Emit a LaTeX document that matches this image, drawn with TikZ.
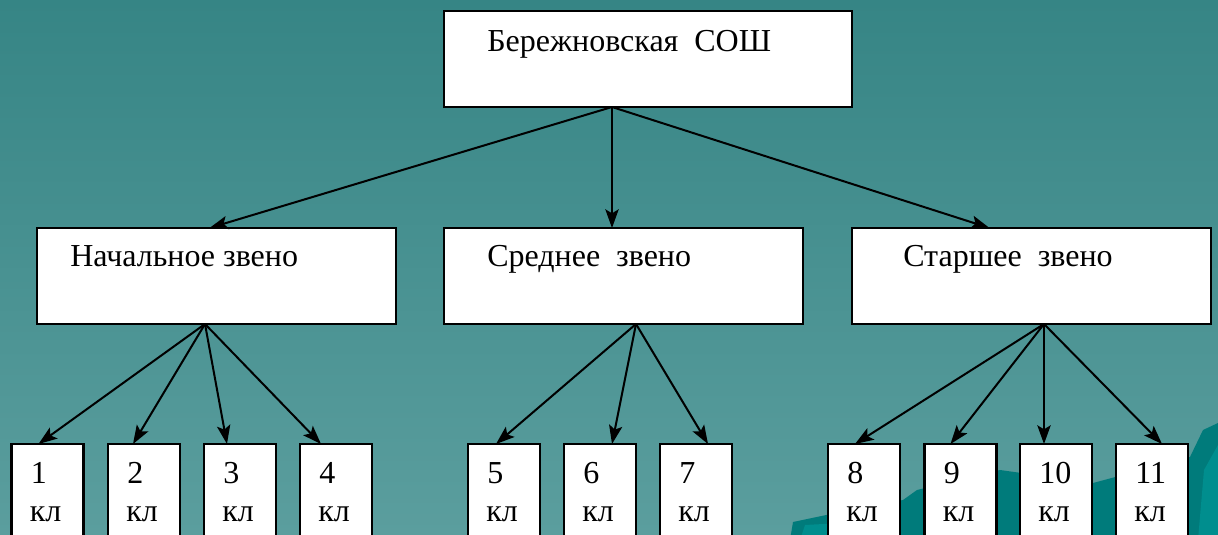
\documentclass[tikz,border=0pt]{standalone}
\usepackage{fontspec}
\setmainfont{Liberation Serif}
\usetikzlibrary{arrows.meta,calc}
\definecolor{bgtop}{HTML}{368585}
\definecolor{bgbot}{HTML}{5B9E9E}
\definecolor{hill}{HTML}{007B7B}
\definecolor{hilltwo}{HTML}{008E8E}
\begin{document}
\begin{tikzpicture}[x=0.75pt,y=-0.75pt,
  box/.style={draw=black,fill=white,line width=1.7pt,inner sep=0pt,outer sep=0pt},
  topbox/.style={box,minimum width=306pt,minimum height=72pt},
  midbox/.style={box,minimum width=269.25pt,minimum height=72pt},
  clsbox/.style={box,minimum width=54pt,minimum height=82.5pt},
  lbl/.style={anchor=base west,inner sep=0pt,font=\fontsize{24}{28}\selectfont},
  conn/.style={line width=1.5pt,-{Stealth[length=14pt,width=10pt,inset=3pt]}}]
\useasboundingbox (0,0) rectangle (1218,535);
\clip (0,0) rectangle (1218,535);
\shade[top color=bgtop,bottom color=bgbot] (0,0) rectangle (1218,535);
\fill[hill] (790,540) -- (793,522) -- (850,510) -- (903,500) -- (917,490) -- (1000,470) -- (1093,483) -- (1190,457) -- (1203,430) -- (1218,423) -- (1218,540) -- cycle;
\fill[hilltwo] (1198,540) -- (1204,470) -- (1218,445) -- (1218,540) -- cycle;
\fill[hilltwo] (800,540) -- (805,525) -- (860,522) -- (860,540) -- cycle;
% top
\node[topbox] (top) at (648,59) {};
\node[lbl] (ttop) at (487,52) {Бережновская\ \ СОШ};
% level 2
\node[midbox] (n1) at (216.5,276) {};
\node[midbox] (n2) at (623.5,276) {};
\node[midbox] (n3) at (1031.5,276) {};
\node[lbl] (t1) at (70,266.5) {Начальное звено};
\node[lbl] (t2) at (487,266.5) {Среднее\ \ звено};
\node[lbl] (t3) at (903,266.5) {Старшее\ \ звено};
% level 3
\foreach \i/\x in {1/47.5,2/144,3/240,4/336,5/504,6/600,7/696,8/864,9/960.5,10/1056,11/1152}{
  \node[clsbox] (b\i) at (\x,499) {};
  \node[lbl] (d\i) at ($(b\i.north west)+(19,39)$) {\i};
  \node[lbl] (k\i) at ($(b\i.north west)+(18,77)$) {кл};
}
% connectors
\coordinate (topout) at ($(top.south)+(-36,0)$);
\draw[conn] (topout) -- ($(n1.north)+(-7,0)$);
\draw[conn] (topout) -- (n2.north -| topout);
\draw[conn] (topout) -- ($(n3.north)+(-42,0)$);
\coordinate (o1) at ($(n1.south)+(-11.5,0)$);
\coordinate (o2) at ($(n2.south)+(12.5,0)$);
\coordinate (o3) at ($(n3.south)+(12.5,0)$);
\draw[conn] (o1) -- ($(b1.north)+(-9,0)$);
\draw[conn] (o1) -- ($(b2.north)+(-11,0)$);
\draw[conn] (o1) -- ($(b3.north)+(-13,0)$);
\draw[conn] (o1) -- ($(b4.north)+(-15,0)$);
\draw[conn] (o2) -- ($(b5.north)+(-8,0)$);
\draw[conn] (o2) -- ($(b6.north)+(12,0)$);
\draw[conn] (o2) -- ($(b7.north)+(12,0)$);
\draw[conn] (o3) -- ($(b8.north)+(-9,0)$);
\draw[conn] (o3) -- ($(b9.north)+(-10,0)$);
\draw[conn] (o3) -- (b10.north -| o3);
\draw[conn] (o3) -- ($(b11.north)+(10,0)$);
\end{tikzpicture}
\end{document}
